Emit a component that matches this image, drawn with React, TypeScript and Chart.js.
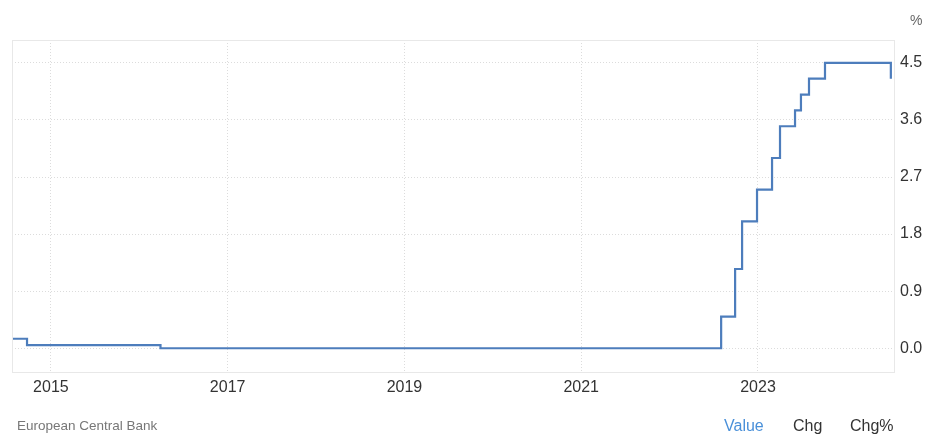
import React, { useEffect, useRef } from "react";
import { Chart, registerables } from "chart.js";

Chart.register(...registerables);

// Rate change dates (decimal years) and new rate levels (%)
const changeDates = [2014.44, 2014.73, 2016.24, 2022.583, 2022.741, 2022.82, 2022.989, 2023.159, 2023.249, 2023.419, 2023.486, 2023.577, 2023.758, 2024.503];
const rateValues = [0.15, 0.05, 0.0, 0.5, 1.25, 2.0, 2.5, 3.0, 3.5, 3.75, 4.0, 4.25, 4.5, 4.25];
const xTickYears = [2015, 2017, 2019, 2021, 2023];
const yTickValues = [0, 0.9, 1.8, 2.7, 3.6, 4.5];
const sourceLabel = "European Central Bank";
const unitLabel = "%";
const tabLabels = ["Value", "Chg", "Chg%"];

const FONT = "'Liberation Sans', Arial, Helvetica, sans-serif";

const frame = {
  id: "frame",
  afterDraw(chart: any) {
    const { ctx, chartArea } = chart;
    ctx.save();
    ctx.strokeStyle = "#e8e8e8";
    ctx.lineWidth = 1;
    ctx.strokeRect(chartArea.left + 0.5, chartArea.top + 0.5, chartArea.right - chartArea.left - 1, chartArea.bottom - chartArea.top - 1);
    ctx.restore();
  },
};

export default function App() {
  const ref = useRef<HTMLCanvasElement | null>(null);
  useEffect(() => {
    document.body.style.margin = "0";
    const data = changeDates.map((d, i) => ({ x: d, y: rateValues[i] }));
    const chart = new Chart(ref.current as HTMLCanvasElement, {
      type: "line",
      data: {
        datasets: [
          {
            data,
            stepped: true,
            borderColor: "#4d7dbc",
            borderWidth: 2.2,
            pointRadius: 0,
            fill: false,
          },
        ],
      },
      options: {
        animation: false,
        responsive: false,
        maintainAspectRatio: false,
        layout: { padding: { left: 12, top: 40, right: 0, bottom: 0 } },
        plugins: { legend: { display: false }, tooltip: { enabled: false } },
        scales: {
          x: {
            type: "linear",
            min: 2014.56,
            max: 2024.55,
            afterBuildTicks: (s: any) => {
              s.ticks = xTickYears.map((v) => ({ value: v }));
            },
            afterFit: (s: any) => {
              s.height = 62;
            },
            border: { display: false, dash: [1, 2] },
            grid: { color: "#dcdcdc", drawTicks: false },
            ticks: {
              padding: 5,
              color: "#333",
              font: { family: FONT, size: 16 },
              maxRotation: 0,
              callback: (v: any) => String(v),
            },
          },
          y: {
            position: "right",
            min: -0.39,
            max: 4.86,
            afterBuildTicks: (s: any) => {
              s.ticks = yTickValues.map((v) => ({ value: v }));
            },
            afterFit: (s: any) => {
              s.width = 31;
            },
            border: { display: false, dash: [1, 2] },
            grid: { color: "#dcdcdc", drawTicks: false },
            ticks: {
              padding: 5,
              color: "#333",
              font: { family: FONT, size: 16 },
              callback: (v: any) => Number(v).toFixed(1),
            },
          },
        },
      },
      plugins: [frame],
    });
    return () => chart.destroy();
  }, []);

  const textBase: React.CSSProperties = { position: "absolute", fontFamily: FONT, whiteSpace: "nowrap", lineHeight: "normal" };
  return (
    <div style={{ position: "relative", width: 926, height: 435, background: "#fff", overflow: "hidden" }}>
      <canvas ref={ref} width={926} height={435} style={{ position: "absolute", left: 0, top: 0 }} />
      <div style={{ ...textBase, left: 910, top: 12, fontSize: 14, color: "#666" }}>{unitLabel}</div>
      <div style={{ ...textBase, left: 17, top: 418, fontSize: 13.5, color: "#777" }}>{sourceLabel}</div>
      <div style={{ ...textBase, left: 724, top: 417, fontSize: 16, color: "#4a90d9" }}>{tabLabels[0]}</div>
      <div style={{ ...textBase, left: 793, top: 417, fontSize: 16, color: "#333" }}>{tabLabels[1]}</div>
      <div style={{ ...textBase, left: 850, top: 417, fontSize: 16, color: "#333" }}>{tabLabels[2]}</div>
    </div>
  );
}
